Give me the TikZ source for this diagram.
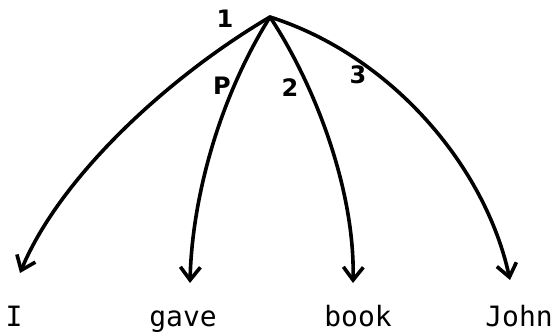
\documentclass[tikz,border=0pt]{standalone}
\usepackage{fontspec}
\setmainfont{DejaVu Sans Mono}
\newfontfamily\labelfont{DejaVu Sans}
\usetikzlibrary{arrows.meta,positioning,calc}

\begin{document}
\begin{tikzpicture}[x=1pt,y=-1pt,>={Straight Barb[length=13pt,width=20pt]},
  edge/.style={->,line width=3.6pt,line cap=round,line join=round},
  word/.style={anchor=base,inner sep=0pt,font=\fontsize{28}{30}\selectfont},
  lab/.style={inner sep=0pt,font=\labelfont\bfseries\fontsize{24}{26}\selectfont}]
\useasboundingbox (0,0) rectangle (553,335);
\coordinate (root) at (270,17);
\node[word] (I) at (14,326) {I};
\node[word] (gave) at (183,326) {gave};
\node[word] (book) at (358,326) {book};
\node[word] (John) at (519,326) {John};
% arrow ends above the words
\coordinate (tI) at (20,273);
\coordinate (tgave) at (190,283);
\coordinate (tbook) at (353,283);
\coordinate (tJohn) at (510,280);
\draw[edge](root) .. controls (168,77) and (60,177) .. (tI);
\draw[edge](root) .. controls (218,100) and (192,200) .. (tgave);
\draw[edge](root) .. controls (315,85) and (355,190) .. (tbook);
\draw[edge](root) .. controls (390,55) and (485,165) .. (tJohn);
\node[lab] (l1) at (225,19) {1};
\node[lab] (lP) at (222,86) {P};
\node[lab] (l2) at (290,88) {2};
\node[lab] (l3) at (358,75) {3};
\end{tikzpicture}
\end{document}
